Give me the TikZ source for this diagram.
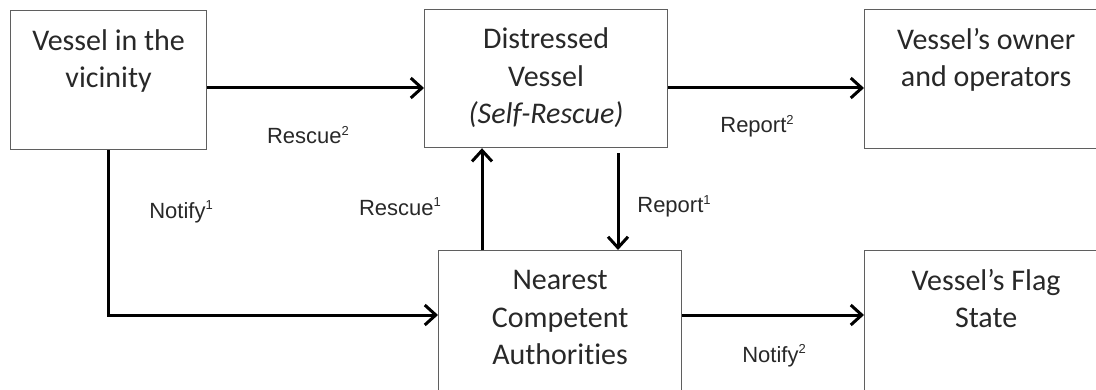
\documentclass[tikz,border=0pt]{standalone}
\usepackage{fontspec}
\usetikzlibrary{arrows.meta,calc}
\newfontfamily\boxfont[Ligatures=NoCommon]{Carlito}
\newfontfamily\lblfont{Liberation Sans}
\definecolor{boxline}{RGB}{95,95,95}
\definecolor{boxtext}{RGB}{40,40,40}
\newcommand\upnum[1]{\raisebox{0.75ex}{\fontsize{13}{13}\selectfont #1}}

\begin{document}
\begin{tikzpicture}[x=1pt,y=1pt,
		entity/.style={draw=boxline, line width=1.2pt, inner sep=0pt, anchor=north west,
			align=center, minimum width=243pt, text=boxtext,
			font=\boxfont\fontsize{30}{37.5}\selectfont},
		twoline/.style={text height=77pt, text depth=#1},
		threeline/.style={text height=114pt, text depth=#1},
		flow/.style={line width=3pt, -{Straight Barb[length=11pt,width=20pt]}},
		tag/.style={anchor=base, text=boxtext, font=\lblfont\fontsize{22}{26}\selectfont}]
	\useasboundingbox (0,0) rectangle (1096,389);
	
	% boxes
	\node[entity, twoline=62pt, minimum width=196pt] (vic) at (10,379) {Vessel in the\\vicinity};
	\node[entity, threeline=24pt] (dis) at (424,380) {Distressed\\Vessel\\\textit{(Self-Rescue)}};
	\node[entity, twoline=62pt] (own) at (864,380) {Vessel’s owner\\and operators};
	\node[entity, threeline=27pt] (nca) at (438,139) {Nearest\\Competent\\Authorities};
	\node[entity, twoline=64pt] (flag) at (864,139) {Vessel’s Flag\\State};
	
	\coordinate (rowA) at (0,301);
	\coordinate (rowB) at (0,74);
	\coordinate (colA) at (482,0);
	\coordinate (colB) at (618,0);
	
	% connectors
	\draw[flow] (vic.east |- rowA) -- (dis.west |- rowA);
	\draw[flow] (dis.east |- rowA) -- (own.west |- rowA);
	\draw[flow] (vic.south) -- (vic.south |- rowB) -- (nca.west |- rowB);
	\draw[flow] (colA |- nca.north) -- (colA |- dis.south);
	\draw[flow, shorten <=5pt] (colB |- dis.south) -- (colB |- nca.north);
	\draw[flow] (nca.east |- rowB) -- (flag.west |- rowB);
	
	% labels
	\node[tag] (rescueB) at (308,245) {Rescue\upnum{2}};
	\node[tag] (reportB) at (757,256) {Report\upnum{2}};
	\node[tag] (notifyA) at (181,171) {Notify\upnum{1}};
	\node[tag] (rescueA) at (400,174) {Rescue\upnum{1}};
	\node[tag] (reportA) at (674,176) {Report\upnum{1}};
	\node[tag] (notifyB) at (774,27) {Notify\upnum{2}};
\end{tikzpicture}
\end{document}
